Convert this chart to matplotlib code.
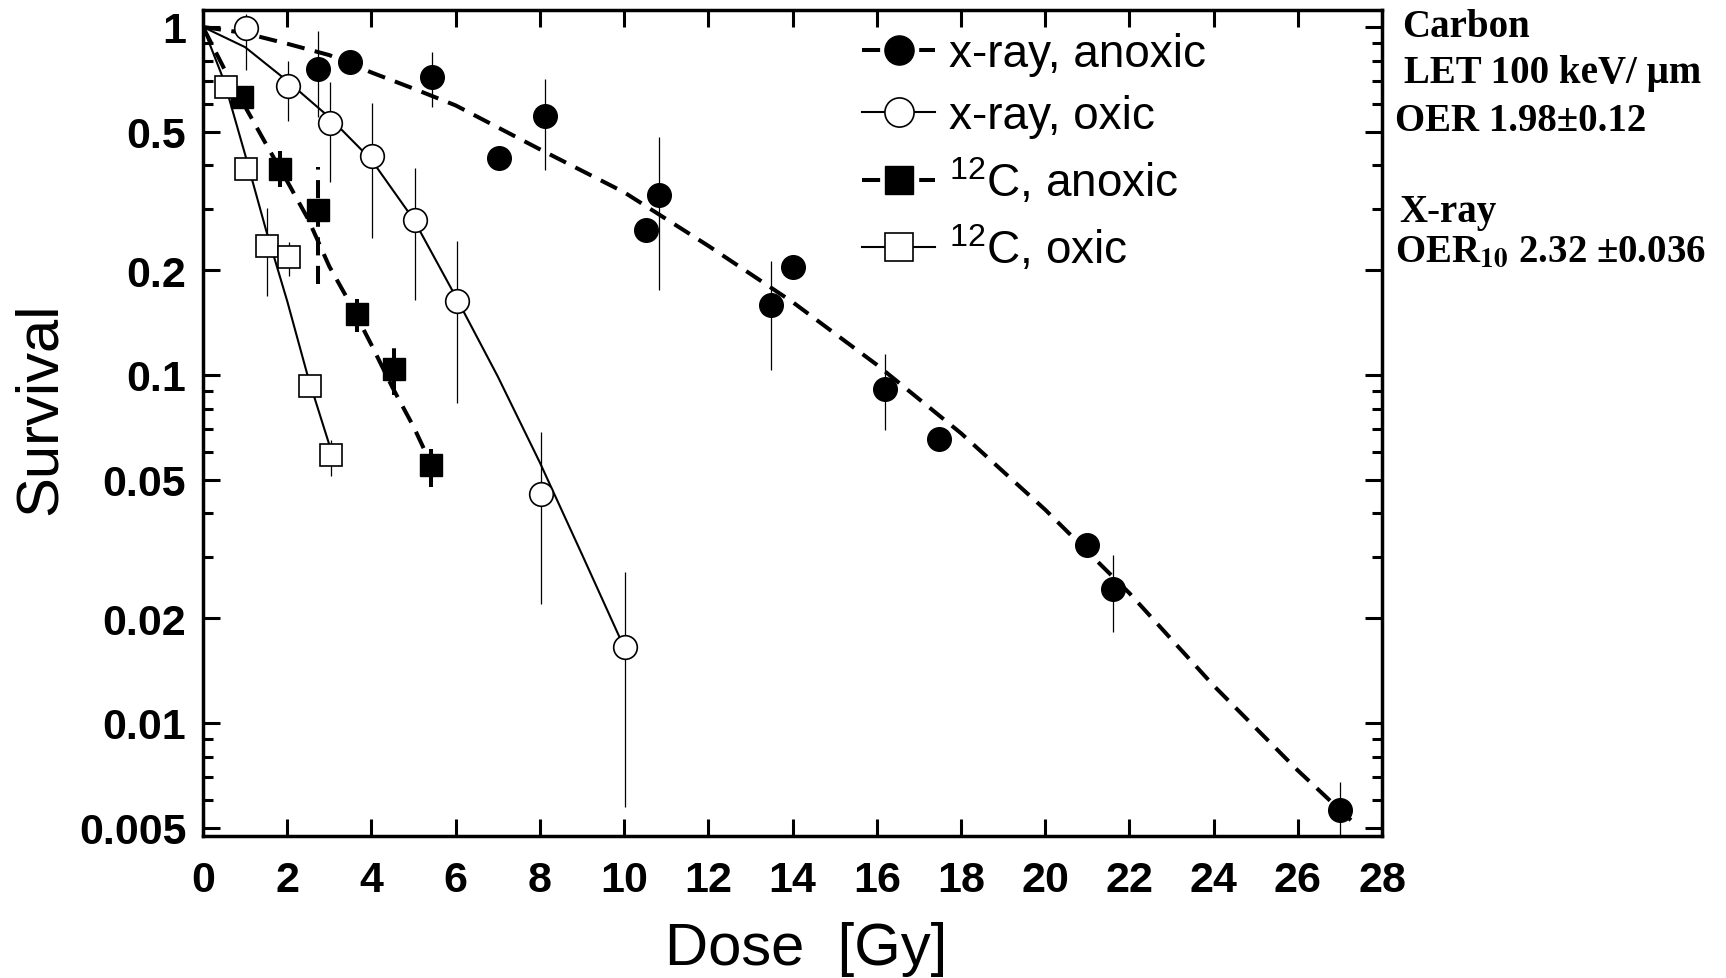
import numpy as np
import matplotlib
matplotlib.use("Agg")
import matplotlib.pyplot as plt
from matplotlib.lines import Line2D
from matplotlib.ticker import FixedLocator, NullFormatter, FixedFormatter

plt.rcParams['font.family'] = ['Liberation Sans', 'DejaVu Sans']
plt.rcParams['mathtext.fontset'] = 'custom'
plt.rcParams['mathtext.rm'] = 'Liberation Sans'
plt.rcParams['mathtext.bf'] = 'Liberation Sans:bold'

# x-ray, anoxic (filled circles)
xa_dose = [2.72, 3.50, 5.43, 7.02, 8.13, 10.53, 10.84, 13.48, 14.0, 16.2, 17.48, 21.0, 21.6, 27.0]
xa_surv = [0.757, 0.792, 0.717, 0.42, 0.556, 0.261, 0.329, 0.159, 0.204, 0.0914, 0.0654, 0.0325, 0.0243, 0.0056]
xa_err_dose = [2.72, 5.43, 8.13, 10.84, 13.48, 16.2, 21.6, 27.0]
xa_err_lo = [0.551, 0.588, 0.387, 0.175, 0.103, 0.0696, 0.0182, 0.0045]
xa_err_hi = [0.976, 0.849, 0.709, 0.484, 0.212, 0.115, 0.0303, 0.00676]
xa_fit_dose = [0, 1, 2, 3, 4, 5, 6, 8, 10, 12, 14, 16, 18, 20, 22, 24, 26, 27.3]
xa_fit_surv = [1.0, 0.96, 0.895, 0.83, 0.74, 0.665, 0.595, 0.445, 0.335, 0.235, 0.162,
               0.107, 0.068, 0.041, 0.0236, 0.0128, 0.0073, 0.0052]

# x-ray, oxic (open circles)
xo_dose = [1.02, 2.02, 3.02, 4.02, 5.04, 6.04, 8.02, 10.02]
xo_surv = [0.99, 0.675, 0.528, 0.427, 0.279, 0.1635, 0.0455, 0.0165]
xo_err_lo = [0.75, 0.538, 0.358, 0.247, 0.164, 0.0833, 0.022, 0.00573]
xo_err_hi = [1.09, 0.80, 0.694, 0.605, 0.393, 0.243, 0.0686, 0.0272]
xo_fit_dose = [0, 1, 2, 3, 4, 5, 6, 7, 8, 9, 10]
xo_fit_surv = [1.0, 0.875, 0.70, 0.55, 0.415, 0.28, 0.168, 0.099, 0.056, 0.0305, 0.0165]

# 12C, anoxic (filled squares)
ca_dose = [0.92, 1.83, 2.74, 3.65, 4.53, 5.41]
ca_surv = [0.628, 0.39, 0.298, 0.150, 0.104, 0.055]
ca_err_dose = [1.83, 2.74, 3.65, 4.53, 5.41]
ca_err_lo = [0.346, 0.183, 0.133, 0.0873, 0.0476]
ca_err_hi = [0.441, 0.395, 0.165, 0.120, 0.0614]
ca_fit_dose = [0, 0.5, 1, 1.5, 2, 2.5, 3, 3.5, 4, 4.5, 5, 5.43]
ca_fit_surv = [1.0, 0.76, 0.59, 0.46, 0.36, 0.28, 0.205, 0.16, 0.122, 0.092, 0.071, 0.055]

# 12C, oxic (open squares)
co_dose = [0.54, 1.03, 1.51, 2.04, 2.54, 3.03]
co_surv = [0.671, 0.391, 0.235, 0.218, 0.0932, 0.0587]
co_err_dose = [1.51, 2.04, 3.03]
co_err_lo = [0.169, 0.193, 0.0513]
co_err_hi = [0.302, 0.241, 0.065]
co_fit_dose = [0, 0.5, 1.0, 1.5, 2.0, 2.5, 3.0]
co_fit_surv = [1.0, 0.70, 0.43, 0.26, 0.163, 0.098, 0.063]

y_major = [0.005, 0.01, 0.02, 0.05, 0.1, 0.2, 0.5, 1]
y_labels = ['0.005', '0.01', '0.02', '0.05', '0.1', '0.2', '0.5', '1']
y_minor = [0.006, 0.007, 0.008, 0.009, 0.03, 0.04, 0.06, 0.07, 0.08, 0.09,
           0.3, 0.4, 0.6, 0.7, 0.8, 0.9]

dash = (0, (4.5, 2.6))
lw_dash = 2.9
lw_solid = 1.5
ms = 17

fig = plt.figure(figsize=(17.26, 9.79), dpi=100)
ax = fig.add_axes([203 / 1726, 1 - 837 / 979, 1179 / 1726, 826.3 / 979])

# fitted curves
ax.plot(xa_fit_dose, xa_fit_surv, color='k', ls=dash, lw=lw_dash, zorder=2)
ax.plot(xo_fit_dose, xo_fit_surv, color='k', ls='-', lw=lw_solid, zorder=2)
ax.plot(ca_fit_dose, ca_fit_surv, color='k', ls=dash, lw=lw_dash, zorder=2)
ax.plot(co_fit_dose, co_fit_surv, color='k', ls='-', lw=lw_solid, zorder=2)

# error bars
ax.vlines(xa_err_dose, xa_err_lo, xa_err_hi, color='k', lw=0.9, zorder=2)
ax.vlines(xo_dose, xo_err_lo, xo_err_hi, color='k', lw=0.9, zorder=2)
ax.vlines(ca_err_dose, ca_err_lo, ca_err_hi, color='k', lw=lw_dash, linestyles=[dash], zorder=2)
ax.vlines(co_err_dose, co_err_lo, co_err_hi, color='k', lw=0.9, zorder=2)

# data points
ax.plot(xa_dose, xa_surv, 'o', ms=ms, mfc='k', mec='k', zorder=3)
ax.plot(xo_dose, xo_surv, 'o', ms=ms, mfc='white', mec='k', mew=1.2, zorder=3)
ax.plot(ca_dose, ca_surv, 's', ms=ms - 1, mfc='k', mec='k', zorder=3)
ax.plot(co_dose, co_surv, 's', ms=ms - 1, mfc='white', mec='k', mew=1.2, zorder=3)

ax.set_yscale('log')
ax.set_xlim(0, 28)
ax.set_ylim(0.00473, 1.121)
ax.set_xticks(range(0, 29, 2))
ax.yaxis.set_major_locator(FixedLocator(y_major))
ax.yaxis.set_major_formatter(FixedFormatter(y_labels))
ax.yaxis.set_minor_locator(FixedLocator(y_minor))
ax.yaxis.set_minor_formatter(NullFormatter())

for sp in ax.spines.values():
    sp.set_linewidth(2.5)
ax.tick_params(which='both', direction='in', top=True, right=True, width=2.2)
ax.tick_params(which='major', length=12, labelsize=31)
ax.tick_params(which='minor', length=7)
ax.tick_params(axis='x', pad=17)
ax.tick_params(axis='y', pad=12)
for lab in ax.get_xticklabels() + ax.get_yticklabels():
    lab.set_fontweight('bold')

ax.set_xlabel('Dose  [Gy]', fontsize=43)
ax.set_ylabel('Survival', fontsize=43)
ax.xaxis.set_label_coords(0.5115, -0.103)
ax.yaxis.set_label_coords(-0.115, 0.518)

handles = [
    Line2D([], [], color='k', ls=dash, lw=lw_dash, marker='o', ms=21, mfc='k'),
    Line2D([], [], color='k', ls='-', lw=lw_solid, marker='o', ms=21, mfc='white', mew=1.2),
    Line2D([], [], color='k', ls=dash, lw=lw_dash, marker='s', ms=20, mfc='k'),
    Line2D([], [], color='k', ls='-', lw=lw_solid, marker='s', ms=20, mfc='white', mew=1.2),
]
labels = ['x-ray, anoxic', 'x-ray, oxic', r'$^{12}$C, anoxic', r'$^{12}$C, oxic']
ax.legend(handles, labels, loc='upper left', bbox_to_anchor=(0.559, 0.973),
          frameon=False, fontsize=33, handlelength=1.6, handletextpad=0.3,
          labelspacing=0.39, borderpad=0, borderaxespad=0, numpoints=1)

# annotation to the right of the plot
serif = dict(family=['Liberation Serif', 'DejaVu Serif'], weight='bold', fontsize=28,
             va='baseline', ha='left')
fig.text(1402 / 1726, 1 - 36.7 / 979, 'Carbon', **serif)
fig.text(1404 / 1726, 1 - 83.3 / 979, 'LET 100 keV/ µm', **serif)
fig.text(1395 / 1726, 1 - 131 / 979, 'OER 1.98±0.12', **serif)
fig.text(1399 / 1726, 1 - 221.7 / 979, 'X-ray', **serif)
fig.text(1395 / 1726, 1 - 261.7 / 979, r'OER$_{\mathbf{10}}$ 2.32 ±0.036',
         math_fontfamily='stix', **serif)

fig.savefig('out.png', dpi=100)
